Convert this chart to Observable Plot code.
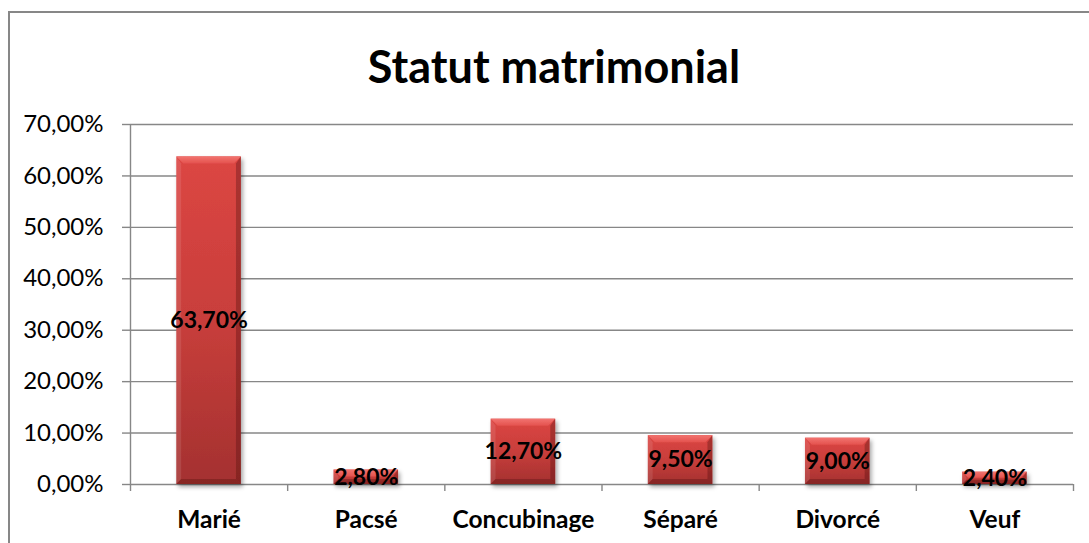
<!DOCTYPE html>
<html>
<head>
<meta charset="utf-8">
<script src="https://cdn.jsdelivr.net/npm/d3@7"></script>
<script src="https://cdn.jsdelivr.net/npm/@observablehq/plot@0.6"></script>
<style>
  html, body { margin: 0; padding: 0; background: #fff; }
  #wrap { position: relative; width: 1089px; height: 543px; overflow: hidden; font-family: Lato, "Open Sans", sans-serif; }
  #border { position: absolute; left: 8px; top: 11px; width: 1200px; height: 600px; border-left: 2px solid #878787; border-top: 2px solid #878787; }
  #title { position: absolute; left: 0; top: 44px; width: 1108px; text-align: center; font: bold 45px/45px Lato, sans-serif; color: #000; }
  #chart { position: absolute; left: 0; top: 0; }
</style>
</head>
<body>
<div id="wrap">
  <div id="border"></div>
  <div id="title"></div>
  <div id="chart"></div>
</div>
<script>
const title = "Statut matrimonial";
const categories = ["Marié", "Pacsé", "Concubinage", "Séparé", "Divorcé", "Veuf"];
const values = [63.7, 2.8, 12.7, 9.5, 9.0, 2.4];
const yTicks = [0, 10, 20, 30, 40, 50, 60, 70];

const fmt = v => v.toFixed(2).replace(".", ",") + "%";
const rows = categories.map((c, i) => ({c, i, v: values[i]}));
const half = 0.2055;
const grid = "#878787";

document.getElementById("title").textContent = title;

function bevel(index, scales, vals, dims, ctx, next) {
  const g = next(index, scales, vals, dims, ctx);
  g.setAttribute("filter", "url(#shadow)");
  const ns = "http://www.w3.org/2000/svg";
  const poly = (pts, fill) => {
    const p = document.createElementNS(ns, "polygon");
    p.setAttribute("points", pts.map(d => d.join(",")).join(" "));
    p.setAttribute("fill", fill);
    g.appendChild(p);
  };
  for (const i of index) {
    const l = Math.min(vals.x1[i], vals.x2[i]), r = Math.max(vals.x1[i], vals.x2[i]);
    const t = Math.min(vals.y1[i], vals.y2[i]), b = Math.max(vals.y1[i], vals.y2[i]);
    const e = Math.min(7, (b - t) / 2, (r - l) / 2);
    poly([[l, t], [r, t], [r - e, t + e], [l + e, t + e]], "url(#bevelTop)");
    poly([[r, t], [r, b], [r - e * 0.7, b - e * 0.7], [r - e * 0.7, t + e]], "rgba(80,15,15,0.35)");
    poly([[l, t], [l + e * 0.7, t + e], [l + e * 0.7, b - e * 0.7], [l, b]], "rgba(255,255,255,0.10)");
    poly([[l, b], [l + e * 0.7, b - e * 0.7], [r - e * 0.7, b - e * 0.7], [r, b]], "rgba(70,10,10,0.30)");
  }
  return g;
}

const chart = Plot.plot({
  width: 1089,
  height: 543,
  marginTop: 124,
  marginBottom: 59,
  marginLeft: 130,
  marginRight: 16,
  x: {type: "linear", domain: [0, categories.length], axis: null},
  y: {domain: [0, 70], axis: null},
  style: {fontFamily: "Lato, sans-serif", background: "transparent", overflow: "visible", color: "#000"},
  marks: [
    Plot.ruleY(yTicks, {y: d => d, x1: 0, x2: categories.length, stroke: grid, strokeWidth: 1.4}),
    Plot.axisY(yTicks, {label: null, tickSize: 8, tickPadding: 19, tickFormat: fmt, fontSize: 24, stroke: grid, strokeWidth: 1.4, fill: "#000"}),
    Plot.ruleX([0], {x: d => d, y1: 0, y2: 70, stroke: grid, strokeWidth: 1.4}),
    Plot.axisX(d3.range(categories.length + 1), {label: null, tickSize: 7, tickFormat: () => "", stroke: grid, strokeWidth: 1.4}),
    Plot.rect(rows, {
      x1: d => d.i + 0.5 - half,
      x2: d => d.i + 0.5 + half,
      y1: 0,
      y2: "v",
      fill: "url(#barGrad)",
      render: bevel
    }),
    Plot.text(rows, {x: d => d.i + 0.5, y: d => d.v / 2, text: d => fmt(d.v), fontSize: 23, fontWeight: "bold", fill: "#000"}),
    Plot.text(rows, {x: d => d.i + 0.5, y: 0, text: "c", dy: 36, fontSize: 24.5, fontWeight: "bold", fill: "#000"})
  ]
});

const defs = `
<defs>
  <linearGradient id="barGrad" x1="0" y1="0" x2="0" y2="1">
    <stop offset="0" stop-color="#DC4643"/>
    <stop offset="0.5" stop-color="#C83E3B"/>
    <stop offset="1" stop-color="#A43130"/>
  </linearGradient>
  <linearGradient id="bevelTop" x1="0" y1="0" x2="0" y2="1">
    <stop offset="0" stop-color="#F27470"/>
    <stop offset="1" stop-color="#E4524E"/>
  </linearGradient>
  <filter id="shadow" x="-20%" y="-20%" width="140%" height="140%">
    <feDropShadow dx="2" dy="3" stdDeviation="2" flood-color="#000" flood-opacity="0.35"/>
  </filter>
</defs>`;
chart.insertAdjacentHTML("afterbegin", defs);
document.getElementById("chart").appendChild(chart);
</script>
</body>
</html>
